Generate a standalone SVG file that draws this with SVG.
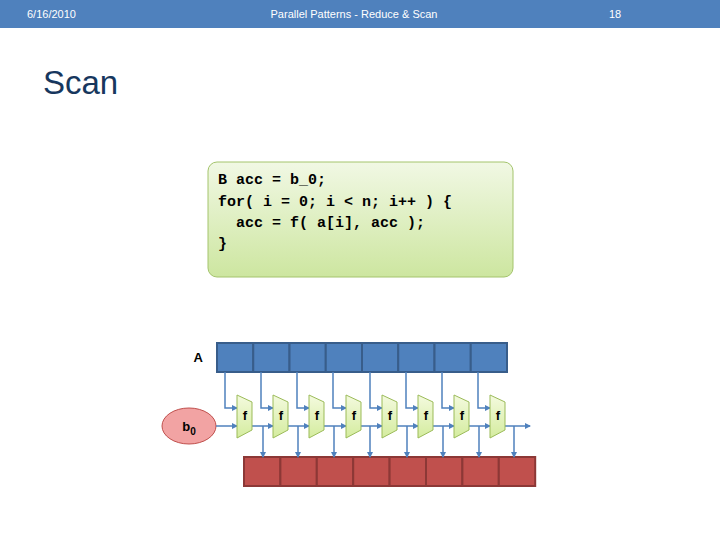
<svg xmlns="http://www.w3.org/2000/svg" width="720" height="540" viewBox="0 0 720 540">
<defs>
<linearGradient id="g" x1="0" y1="0" x2="0" y2="1"><stop offset="0" stop-color="#f1f8e4"/><stop offset="1" stop-color="#cde6a0"/></linearGradient>
<linearGradient id="m" x1="0" y1="0" x2="0" y2="1"><stop offset="0" stop-color="#f4fadf"/><stop offset="1" stop-color="#d4ec9e"/></linearGradient>
<marker id="ar" markerWidth="6" markerHeight="6" refX="5" refY="3" orient="auto" markerUnits="userSpaceOnUse"><path d="M0,0 L6,3 L0,6 z" fill="#4f81bd"/></marker>
<style>
.h{font-family:"Liberation Sans",sans-serif;font-size:11px;fill:#fff}
.code{font-family:"Liberation Mono",monospace;font-weight:bold;font-size:15px;fill:#000}
.ac{fill:#4f81bd;stroke:#385d8a;stroke-width:2}
.rc{fill:#c0504d;stroke:#8c3836;stroke-width:2}
.mux{fill:url(#m);stroke:#9bbb59;stroke-width:1}
.f{font-family:"Liberation Sans",sans-serif;font-weight:bold;font-size:13px}
.w{fill:none;stroke:#4f81bd;stroke-width:1.5}
</style>
</defs>
<rect width="720" height="540" fill="#fff"/>
<g id="header">
<rect x="0" y="0" width="720" height="28" fill="#4f81bd"/>
<text class="h" x="27" y="18">6/16/2010</text>
<text class="h" x="354" y="18" text-anchor="middle">Parallel Patterns - Reduce &amp; Scan</text>
<text class="h" x="615" y="18" text-anchor="middle" font-size="13">18</text>
</g>
<text x="43" y="94" font-family="Liberation Sans,sans-serif" font-size="33" fill="#17375e">Scan</text>
<g id="code">
<rect x="208" y="162" width="305" height="115" rx="9" fill="url(#g)" stroke="#a4c46c"/>
<text class="code" xml:space="preserve"><tspan x="218" y="184">B acc = b_0;</tspan><tspan x="218" y="206">for( i = 0; i &lt; n; i++ ) {</tspan><tspan x="218" y="227">  acc = f( a[i], acc );</tspan><tspan x="218" y="248">}</tspan></text>
</g>
<g id="A">
<text x="203" y="362" class="f" font-size="14" text-anchor="end">A</text>
<rect class="ac" x="217" y="343" width="36.25" height="29"/><rect class="ac" x="253.25" y="343" width="36.25" height="29"/><rect class="ac" x="289.5" y="343" width="36.25" height="29"/><rect class="ac" x="325.75" y="343" width="36.25" height="29"/><rect class="ac" x="362" y="343" width="36.25" height="29"/><rect class="ac" x="398.25" y="343" width="36.25" height="29"/><rect class="ac" x="434.5" y="343" width="36.25" height="29"/><rect class="ac" x="470.75" y="343" width="36.25" height="29"/>
</g>
<g id="B">
<rect class="rc" x="244" y="457" width="36.4" height="29"/><rect class="rc" x="280.4" y="457" width="36.4" height="29"/><rect class="rc" x="316.8" y="457" width="36.4" height="29"/><rect class="rc" x="353.2" y="457" width="36.4" height="29"/><rect class="rc" x="389.6" y="457" width="36.4" height="29"/><rect class="rc" x="426" y="457" width="36.4" height="29"/><rect class="rc" x="462.4" y="457" width="36.4" height="29"/><rect class="rc" x="498.8" y="457" width="36.4" height="29"/>
</g>
<g id="b0">
<ellipse cx="189" cy="426" rx="27" ry="18" fill="#f2a3a3" stroke="#c0504d" stroke-width="1"/>
<text x="189" y="431" class="f" text-anchor="middle">b<tspan font-size="10" dy="4">0</tspan></text>
</g>
<g id="connectors">
<path class="w" marker-end="url(#ar)" d="M216,426 H237"/>
<path class="w" marker-end="url(#ar)" d="M225,372 V408 H237"/>
<path class="w" marker-end="url(#ar)" d="M261,372 V408 H273"/>
<path class="w" marker-end="url(#ar)" d="M297,372 V408 H309"/>
<path class="w" marker-end="url(#ar)" d="M333,372 V408 H346"/>
<path class="w" marker-end="url(#ar)" d="M370,372 V408 H382"/>
<path class="w" marker-end="url(#ar)" d="M406,372 V408 H418"/>
<path class="w" marker-end="url(#ar)" d="M442,372 V408 H454"/>
<path class="w" marker-end="url(#ar)" d="M478,372 V408 H490"/>
<path class="w" marker-end="url(#ar)" d="M252,426 H273"/>
<path class="w" marker-end="url(#ar)" d="M288,426 H309"/>
<path class="w" marker-end="url(#ar)" d="M324,426 H346"/>
<path class="w" marker-end="url(#ar)" d="M361,426 H382"/>
<path class="w" marker-end="url(#ar)" d="M397,426 H418"/>
<path class="w" marker-end="url(#ar)" d="M433,426 H454"/>
<path class="w" marker-end="url(#ar)" d="M469,426 H490"/>
<path class="w" marker-end="url(#ar)" d="M505,426 H530"/>
<path class="w" marker-end="url(#ar)" d="M263,426 V457"/>
<path class="w" marker-end="url(#ar)" d="M298,426 V457"/>
<path class="w" marker-end="url(#ar)" d="M334,426 V457"/>
<path class="w" marker-end="url(#ar)" d="M370,426 V457"/>
<path class="w" marker-end="url(#ar)" d="M407,426 V457"/>
<path class="w" marker-end="url(#ar)" d="M443,426 V457"/>
<path class="w" marker-end="url(#ar)" d="M479,426 V457"/>
<path class="w" marker-end="url(#ar)" d="M514,426 V457"/>
</g>
<g id="f1"><path class="mux" d="M237,395 L252,402 L252,430 L237,438 Z"/><text class="f" x="245" y="420" text-anchor="middle">f</text></g>
<g id="f2"><path class="mux" d="M273,395 L288,402 L288,430 L273,438 Z"/><text class="f" x="281" y="420" text-anchor="middle">f</text></g>
<g id="f3"><path class="mux" d="M309,395 L324,402 L324,430 L309,438 Z"/><text class="f" x="317" y="420" text-anchor="middle">f</text></g>
<g id="f4"><path class="mux" d="M346,395 L361,402 L361,430 L346,438 Z"/><text class="f" x="354" y="420" text-anchor="middle">f</text></g>
<g id="f5"><path class="mux" d="M382,395 L397,402 L397,430 L382,438 Z"/><text class="f" x="390" y="420" text-anchor="middle">f</text></g>
<g id="f6"><path class="mux" d="M418,395 L433,402 L433,430 L418,438 Z"/><text class="f" x="426" y="420" text-anchor="middle">f</text></g>
<g id="f7"><path class="mux" d="M454,395 L469,402 L469,430 L454,438 Z"/><text class="f" x="462" y="420" text-anchor="middle">f</text></g>
<g id="f8"><path class="mux" d="M490,395 L505,402 L505,430 L490,438 Z"/><text class="f" x="498" y="420" text-anchor="middle">f</text></g>
</svg>
